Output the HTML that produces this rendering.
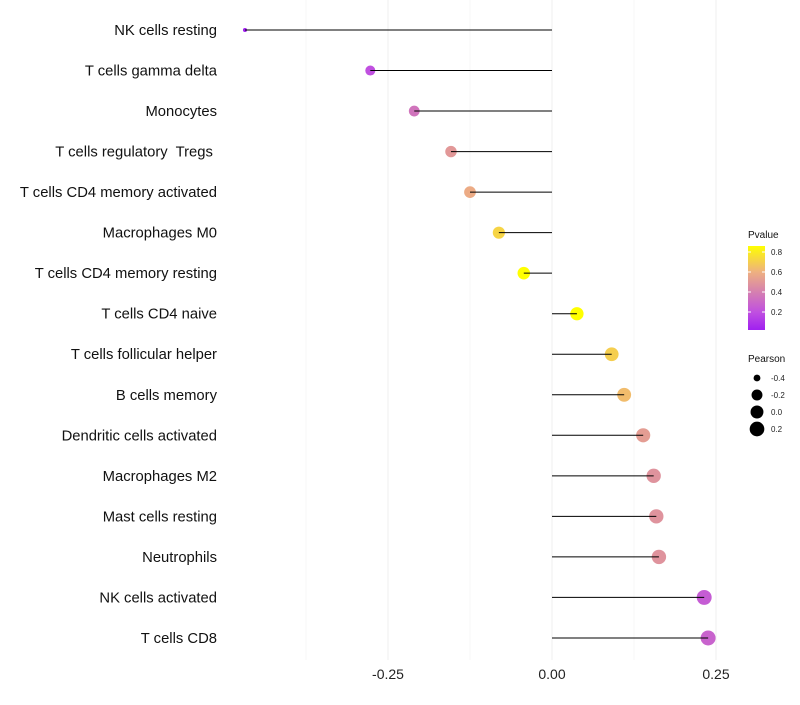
<!DOCTYPE html>
<html><head><meta charset="utf-8"><style>
body{margin:0;background:#fff;font-family:"Liberation Sans",sans-serif}
text{white-space:pre}
</style></head><body>
<svg id="c" width="800" height="700"></svg>
<script>
const categories=["NK cells resting","T cells gamma delta","Monocytes","T cells regulatory  Tregs ","T cells CD4 memory activated","Macrophages M0","T cells CD4 memory resting","T cells CD4 naive","T cells follicular helper","B cells memory","Dendritic cells activated","Macrophages M2","Mast cells resting","Neutrophils","NK cells activated","T cells CD8"];
const pearson=[-0.468,-0.277,-0.210,-0.154,-0.125,-0.081,-0.043,0.038,0.091,0.110,0.139,0.155,0.159,0.163,0.232,0.238];
const pvalue=[0.02,0.2,0.35,0.5,0.58,0.72,0.86,0.86,0.7,0.64,0.52,0.48,0.48,0.48,0.25,0.28];
const xTicks=[-0.25,0,0.25];
const xTickLabels=["-0.25","0.00","0.25"];
const legendP=[0.8,0.6,0.4,0.2];
const legendR=[-0.4,-0.2,0.0,0.2];
const NS="http://www.w3.org/2000/svg";
const svg=document.getElementById('c');
function X(v){return 552+v*656;}
function Y(i){return 30+i*40.53;}
function R(v){const a=v<-0.28?4+(v+0.47)/0.19*21:25+(v+0.28)*60;return Math.sqrt(Math.max(3,a));}
const stops=[[0.02,[160,32,240]],[0.2,[192,80,224]],[0.4,[213,128,176]],[0.6,[238,176,128]],[0.86,[255,255,0]]];
function col(p){if(p<=stops[0][0])return `rgb(${stops[0][1]})`;for(let i=1;i<stops.length;i++){if(p<=stops[i][0]){const a=stops[i-1],b=stops[i],t=(p-a[0])/(b[0]-a[0]);return `rgb(${a[1].map((c,k)=>Math.round(c+(b[1][k]-c)*t))})`;}}return 'rgb(255,255,0)';}
function el(t,a,p){const e=document.createElementNS(NS,t);for(const k in a)e.setAttribute(k,a[k]);(p||svg).appendChild(e);return e;}
[-0.375,-0.125,0.125].forEach(v=>{const g=el('line',{x1:X(v),x2:X(v),y1:0,y2:660,stroke:'#f4f4f4','stroke-width':0.7});

});
xTicks.forEach((v,i)=>{const g=el('line',{x1:X(v),x2:X(v),y1:0,y2:660,stroke:'#efefef','stroke-width':1});


const t=el('text',{x:X(v),y:679,'text-anchor':'middle','font-size':14,fill:'#222'});t.textContent=xTickLabels[i];

});
categories.forEach((c,i)=>{const y=Y(i);
const t=el('text',{x:217,y:y+5,'text-anchor':'end','font-size':14.8,fill:'#111'});t.textContent=c;


const ci=el('circle',{cx:X(pearson[i]),cy:y,r:R(pearson[i]),fill:col(pvalue[i])});


const l=el('line',{x1:X(pearson[i]),x2:X(0),y1:y,y2:y,stroke:'#000','stroke-width':1});

});
const defs=el('defs',{});const lg=el('linearGradient',{id:'g',x1:0,y1:1,x2:0,y2:0},defs);
stops.forEach(s=>{el('stop',{offset:((s[0]-0.02)/0.84),'stop-color':`rgb(${s[1]})`},lg);});
let t=el('text',{x:748,y:238,'font-size':10,fill:'#111'});t.textContent='Pvalue';


const bar=el('rect',{x:748,y:246,width:17,height:84,fill:'url(#g)'});


legendP.forEach(p=>{const y=246+(0.86-p)*100;el('line',{x1:748,x2:751,y1:y,y2:y,stroke:'#fff'});el('line',{x1:762,x2:765,y1:y,y2:y,stroke:'#fff'});
const tt=el('text',{x:771,y:y+3,'font-size':8,fill:'#222'});tt.textContent=p.toFixed(1);

});
t=el('text',{x:748,y:362,'font-size':10,fill:'#111'});t.textContent='Pearson';


legendR.forEach((v,i)=>{const y=378+i*17;const c=el('circle',{cx:757,cy:y,r:R(v),fill:'#000'});


const tt=el('text',{x:771,y:y+3,'font-size':8,fill:'#222'});tt.textContent=v.toFixed(1);

});
</script>
</body></html>
